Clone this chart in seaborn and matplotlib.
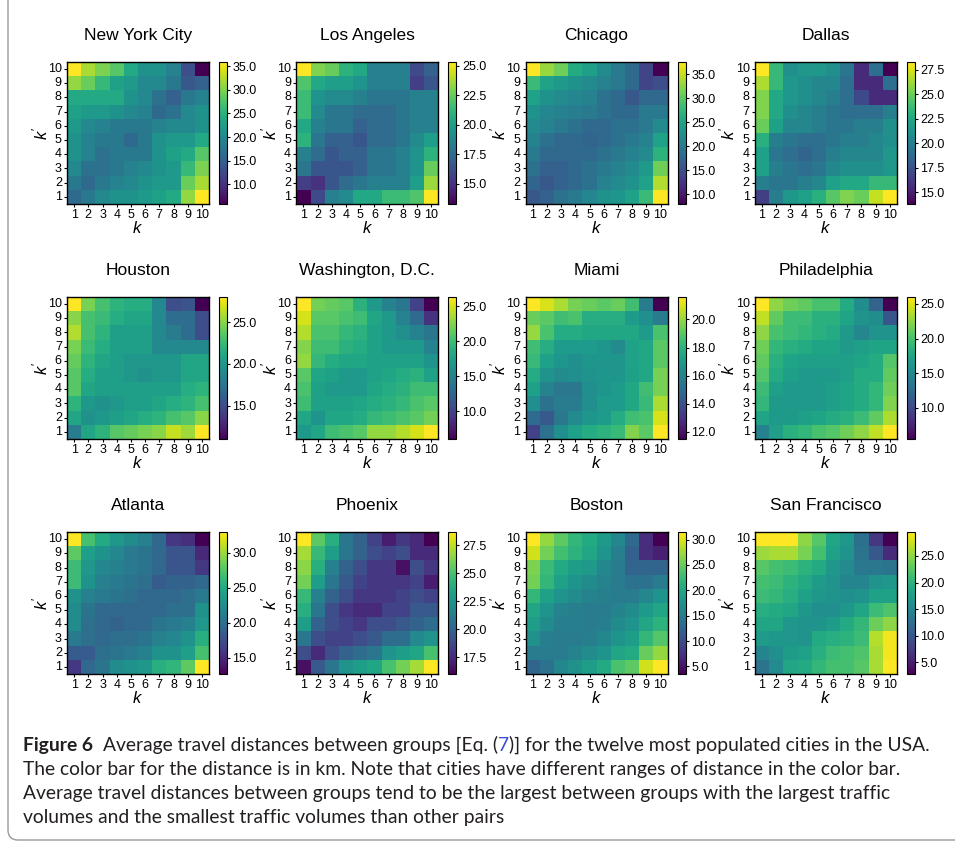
import numpy as np
import pandas as pd
import matplotlib
matplotlib.use("Agg")
import matplotlib.pyplot as plt
import seaborn as sns
from matplotlib.patches import FancyBboxPatch

sns.set_theme(style="white")
plt.rcParams['font.family'] = ['Liberation Sans', 'DejaVu Sans']
plt.rcParams['mathtext.fontset'] = 'custom'
plt.rcParams['mathtext.it'] = 'Liberation Sans:italic'
plt.rcParams['mathtext.rm'] = 'Liberation Sans'

# ---------------- data (rows: k' = 10 at top down to k' = 1; columns: k = 1..10) ----------------
k_labels = [1, 2, 3, 4, 5, 6, 7, 8, 9, 10]
kprime_labels = [10, 9, 8, 7, 6, 5, 4, 3, 2, 1]

cities = ["New York City", "Los Angeles", "Chicago", "Dallas",
          "Houston", "Washington, D.C.", "Miami", "Philadelphia",
          "Atlanta", "Phoenix", "Boston", "San Francisco"]

new_york = [
    [35.9, 32, 30, 28, 24, 21, 21, 19, 13, 5.8],
    [31, 29, 26, 23, 22, 20, 20, 18, 14, 15],
    [24, 24, 24, 24, 21, 20, 17, 15, 18, 19],
    [23, 22, 22, 21, 20, 19, 16, 17, 20, 21],
    [22, 20, 19, 18, 18, 18, 19, 20, 20, 21],
    [21, 19, 18, 18, 16, 18, 21, 22, 22, 24],
    [21, 19, 17, 18, 18, 18, 21, 23, 24, 28],
    [20, 17, 17, 18, 19, 20, 21, 22, 26, 30],
    [18, 16, 18, 19, 20, 21, 22, 22, 29, 32],
    [16, 18, 20, 21, 21, 22, 23, 24, 31, 35.9],
]
los_angeles = [
    [25.3, 23, 22.5, 21, 20.5, 18.5, 18.5, 18.5, 16, 17],
    [22, 20.5, 20, 20, 19.5, 18.5, 18.5, 18.5, 15.5, 16.5],
    [21.5, 19.5, 19, 19, 18.5, 18, 18, 18, 18.5, 18.5],
    [21.5, 19, 18, 18, 17.5, 17.5, 17.5, 18, 18.5, 18.5],
    [20.5, 18.5, 18, 18, 17, 17.5, 17.5, 18, 18.5, 18.5],
    [21, 18, 17, 17, 16.5, 17.5, 17.5, 18, 19, 20],
    [18.5, 17.5, 16.5, 17, 17, 18, 18, 18.5, 19.5, 21],
    [18, 16.5, 16.5, 16.5, 17, 18, 18, 18.5, 19.5, 22.5],
    [15.5, 15, 16.5, 17.5, 18, 18.5, 18.5, 18.5, 20, 23.5],
    [13.3, 16, 18.5, 19, 20.5, 20.5, 21.5, 21.5, 22, 25.3],
]
chicago = [
    [37.5, 33, 31, 26, 24.5, 22, 20, 18, 14, 8],
    [28, 25, 24, 23, 22, 21, 20, 18, 14, 15],
    [25, 23, 22, 21.5, 21, 19, 18, 16, 18, 18],
    [23, 21.5, 21, 20.5, 20, 19, 18, 18, 20, 20],
    [22, 21, 20, 19, 18, 18, 19, 19, 20, 22],
    [21, 19, 18, 18, 17.5, 18, 19, 20, 21, 25],
    [20, 18, 18, 18, 18, 19, 20, 21, 22, 27],
    [19, 17, 17, 18, 19, 20, 21, 22, 24, 31],
    [17.5, 16, 17, 18, 19, 21, 22, 23, 25, 34],
    [16, 17, 19, 20, 21.5, 23, 23.5, 25, 28, 37.5],
]
dallas = [
    [28.3, 23.5, 21, 21.5, 21.5, 21, 19.5, 15.5, 19, 13.8],
    [26.5, 23.5, 21.5, 21, 20.5, 20.5, 19, 15.5, 15.5, 19],
    [25.5, 22.5, 21.5, 21, 20.5, 20, 19, 17, 15.5, 15.5],
    [25.5, 22.5, 21, 20.5, 20, 19.5, 19, 19, 19, 20],
    [25, 22, 20.5, 20.5, 20, 19.5, 19.5, 20, 20, 21],
    [23, 20, 19.5, 19, 19, 19.5, 20, 20, 20.5, 21],
    [22, 19.5, 19, 18.5, 19, 20, 20.5, 20.5, 20.5, 21.5],
    [22, 20, 19.5, 19, 19.5, 20.5, 21, 21, 21, 21.5],
    [20, 19.5, 19.5, 20, 20.5, 22, 22.5, 22.5, 23.5, 23.5],
    [16.5, 20, 21.5, 22, 23, 24.5, 25.5, 25, 27, 28.3],
]
houston = [
    [28, 24.5, 23, 22, 21.5, 21.5, 19, 15, 15.5, 11],
    [25, 23, 22.5, 21.5, 21, 21, 19, 17, 17, 15],
    [26, 23, 22, 20.5, 20.5, 20.5, 19, 18, 17, 15],
    [24.5, 22.5, 21.5, 20.5, 20.5, 20.5, 19, 19, 19, 19],
    [24, 22, 21, 20.5, 20, 20, 20, 20, 21, 21],
    [23.5, 21.5, 20.5, 20.5, 20, 19.5, 20, 20, 21, 21],
    [23.5, 21, 20.5, 20.5, 20.5, 20.5, 20.5, 20.5, 21.5, 22],
    [22, 20, 19.5, 20, 20.5, 20.5, 21, 21.5, 22, 23],
    [21, 19.5, 20, 20.5, 21, 21.5, 22, 23, 23.5, 25],
    [18, 21, 22, 23.5, 24, 24.5, 25, 26.5, 25.5, 28],
]
washington = [
    [26.3, 22, 21.5, 21, 19, 17, 15, 14, 10, 6],
    [25, 21, 21, 20.5, 20, 18, 17, 15, 13, 9],
    [24, 20.5, 20.5, 19.5, 19, 17.5, 17, 16, 15, 14],
    [22.5, 20, 20, 19, 18.5, 17.5, 17, 17, 17, 15],
    [23, 19.5, 18.5, 18, 18, 17.5, 17.5, 17.5, 17.5, 16.5],
    [21, 18, 17.5, 17, 17, 17.5, 18, 18.5, 19, 17.5],
    [20.5, 17.5, 17, 17, 17, 18, 18.5, 19, 20, 20],
    [20, 17.5, 17.5, 17.5, 18, 18.5, 19, 19.5, 20.5, 21],
    [18, 16.5, 18, 18, 18.5, 19.5, 20, 20.5, 21, 22],
    [17, 18, 20, 20.5, 21, 23, 23, 24, 25, 26.3],
]
miami = [
    [21.6, 21, 20.3, 19.5, 19.3, 19, 19.3, 18.5, 15.7, 11.5],
    [19.3, 19, 18.5, 18.7, 17.8, 17.8, 17.8, 17, 16.5, 15.7],
    [20, 18.7, 17.7, 17.7, 17.5, 17.5, 17.5, 17.5, 17, 18.7],
    [18.5, 17.8, 17, 17, 17, 16.8, 16.3, 17.3, 17.5, 19],
    [18.3, 17.2, 16.8, 16.5, 16.8, 16.8, 16.8, 17.3, 17.5, 19],
    [17.7, 16.7, 16.3, 16.5, 16.7, 16.8, 16.8, 17.2, 17.5, 19.5],
    [17.2, 16, 15.5, 15.5, 16.5, 16.8, 17, 17.5, 18.5, 19.5],
    [16.5, 15.3, 15.7, 15.7, 16.5, 17, 17, 17.5, 18.3, 20.3],
    [15, 14.3, 15.5, 16.3, 16.8, 17, 17.7, 18.5, 18.7, 21],
    [13.5, 15.3, 16.5, 17.2, 17.7, 18, 18.3, 19.7, 19, 21.6],
]
philadelphia = [
    [26, 22.5, 21.5, 21, 20, 20, 18, 15.5, 12, 5.5],
    [24, 21, 19.5, 19.5, 18.5, 18.5, 17.5, 16, 15.5, 11],
    [22.5, 20, 19.5, 19, 18.5, 18, 16.5, 15, 16, 16],
    [21.5, 19, 18.5, 18, 17.5, 17.5, 16.5, 17, 17.5, 17.5],
    [21, 18.5, 17.5, 17, 17, 17, 17, 17.5, 18, 20.5],
    [20.5, 18, 17, 16.5, 16.5, 16.5, 17, 18, 18, 21],
    [19.5, 17, 16.5, 16.5, 16.5, 17, 17.5, 18, 19, 21.5],
    [19, 16.5, 16.5, 16.5, 16.5, 17, 17.5, 18, 19, 22],
    [17.5, 16.5, 16.5, 17, 17.5, 18, 18.5, 19.5, 21, 23.5],
    [14.5, 17, 18.5, 19, 20, 20.5, 21.5, 22.5, 24, 26],
]
atlanta = [
    [33, 27, 25, 23.5, 22.5, 21.5, 19.5, 16, 15.5, 12.7],
    [28, 24, 23, 22, 21, 20.5, 19.5, 18, 18, 15],
    [26.5, 23.5, 22, 21.5, 21, 20.5, 19.5, 18, 18, 16],
    [26.5, 23, 21.5, 21, 20.5, 20, 18.5, 19, 19, 19.5],
    [23, 21.5, 21, 20.5, 20, 19.5, 19.5, 19.5, 20, 21],
    [22.5, 20.5, 19.5, 19.5, 19.5, 19.5, 19.5, 20, 20, 23],
    [22.5, 20, 19.5, 19, 19.5, 19.5, 20.5, 21, 21.5, 23.5],
    [21, 20, 19.5, 20, 20, 20.5, 21.5, 22, 23, 25.5],
    [18.5, 18.5, 20, 20.5, 21, 21.5, 23, 23, 24, 27],
    [16, 19.5, 20.5, 22.5, 23, 23.5, 25.5, 26, 28, 33],
]
phoenix = [
    [28.7, 25.5, 24, 21, 20, 18.5, 17, 18, 17.5, 16],
    [27, 24.5, 23, 21, 20, 19, 18.5, 19, 17.5, 17.5],
    [26.5, 24, 21.5, 20, 19, 18, 18, 16.5, 19, 18],
    [26, 23, 21, 19.5, 18.5, 18, 18, 18, 18.5, 17],
    [24.5, 21.5, 20, 19, 18, 18, 18, 18.5, 19, 18.5],
    [24, 21, 19, 18, 17.5, 17.5, 18.5, 18.5, 19.5, 19.5],
    [23, 20, 19, 18.5, 18, 19, 19, 19.5, 20, 20.5],
    [21, 19, 18.5, 18.5, 19, 19.5, 20.5, 20.5, 22, 22.5],
    [19, 17.5, 19, 20, 20.5, 21, 22.5, 23, 23.5, 25],
    [16.5, 19.5, 21, 22.5, 23, 23.5, 25, 26, 27, 28.7],
]
boston = [
    [31.5, 27, 24.5, 22, 20.5, 18.5, 16.5, 13, 7, 3.5],
    [29.5, 25.5, 23, 21.5, 20, 18, 15.5, 12, 7, 6],
    [26, 22.5, 20.5, 19, 18.5, 16.5, 15, 12.5, 12.5, 12.5],
    [25.5, 22, 19.5, 18, 17, 16, 15, 14, 14, 15],
    [22, 19.5, 18, 17, 16, 15.5, 15, 15, 16.5, 18],
    [20, 18, 16, 15.5, 15, 15, 16, 17, 18.5, 20],
    [19, 17, 15.5, 15.5, 15, 15.5, 17, 18, 20, 21.5],
    [17.5, 15.5, 15, 15, 15.5, 16.5, 18, 19, 22, 24],
    [15, 15, 15, 16, 17, 18, 20, 20.5, 25, 27],
    [12.5, 14, 16.5, 17.5, 19, 20.5, 23.5, 24.5, 29.5, 31.5],
]
san_francisco = [
    [29.5, 29.5, 29.5, 25, 22.5, 18.5, 17, 12.5, 7, 2.8],
    [25.5, 26, 26, 24, 21.5, 18, 16.5, 13, 10, 6],
    [22.5, 21.5, 21, 20, 19, 17, 15.5, 13.5, 13.5, 13],
    [21.5, 21, 20, 19, 17.5, 16.5, 15, 15, 16.5, 17],
    [21, 20.5, 19.5, 18, 17, 16.5, 16, 16.5, 18, 18],
    [19.5, 19, 18.5, 17, 16, 16, 17, 18.5, 21, 22],
    [18.5, 18.5, 17, 16.5, 16.5, 17.5, 19, 20.5, 23.5, 25],
    [17.5, 17, 17, 16.5, 19, 19.5, 20, 21, 26.5, 29],
    [15, 16, 17.5, 18, 19.5, 21, 21.5, 22, 26, 29],
    [13, 15.5, 18.5, 19, 20.5, 21.5, 21.5, 22.5, 26, 29.5],
]

matrices = [new_york, los_angeles, chicago, dallas,
            houston, washington, miami, philadelphia,
            atlanta, phoenix, boston, san_francisco]

cbar_ticks = [
    [10, 15, 20, 25, 30, 35],
    [15, 17.5, 20, 22.5, 25],
    [10, 15, 20, 25, 30, 35],
    [15, 17.5, 20, 22.5, 25, 27.5],
    [15, 20, 25],
    [10, 15, 20, 25],
    [12, 14, 16, 18, 20],
    [10, 15, 20, 25],
    [15, 20, 25, 30],
    [17.5, 20, 22.5, 25, 27.5],
    [5, 10, 15, 20, 25, 30],
    [5, 10, 15, 20, 25],
]

caption_lines = [
    "The color bar for the distance is in km. Note that cities have different ranges of distance in the color bar.",
    "Average travel distances between groups tend to be the largest between groups with the largest traffic",
    "volumes and the smallest traffic volumes than other pairs",
]

# ---------------- figure ----------------
W, H = 955, 846
fig = plt.figure(figsize=(W / 100, H / 100), dpi=100)
fig.patch.set_facecolor("white")


def px_axes(x, y, w, h):
    return fig.add_axes([x / W, 1 - (y + h) / H, w / W, h / H])


for i, (name, mat, ticks) in enumerate(zip(cities, matrices, cbar_ticks)):
    r, c = divmod(i, 4)
    x0 = 67 + c * 229.3
    y0 = 62 + r * 235
    ax = px_axes(x0, y0, 142, 142)
    cax = px_axes(x0 + 152, y0, 8, 142)
    df = pd.DataFrame(mat, index=kprime_labels, columns=k_labels)
    sns.heatmap(df, ax=ax, cbar_ax=cax, cmap="viridis",
                xticklabels=True, yticklabels=True,
                cbar_kws={"ticks": ticks, "format": "%.1f"})
    for s in ax.spines.values():
        s.set_visible(True)
        s.set_color("black")
        s.set_linewidth(1.0)
    ax.tick_params(axis="both", length=2.5, width=0.8, color="black",
                   labelsize=9, pad=1.2, bottom=True, left=True, labelcolor="black")
    ax.tick_params(axis="y", labelrotation=0)
    ax.tick_params(axis="x", labelrotation=0)
    ax.set_xlabel("$k$", fontsize=12, labelpad=-1, color="black")
    ax.set_ylabel("$k'$", fontsize=12, color="black")
    ax.yaxis.set_label_coords(-0.12, 0.5)
    ax.set_title(name, fontsize=12.5, pad=16, color="black")
    cb = ax.collections[0].colorbar
    cb.outline.set_linewidth(0.8)
    cb.outline.set_edgecolor("black")
    cb.outline.set_visible(True)
    cax.tick_params(length=2.5, width=0.8, color="black", right=True,
                    labelsize=9, pad=1.5, labelcolor="black")

# ---------------- caption ----------------
cap_font = ["Lato", "DejaVu Sans"]
cap_color = "#231f20"
link_color = "#3c4fd0"
renderer = fig.canvas.get_renderer()


def width_px(s, size, weight="normal"):
    t = fig.text(0, 0, s, fontsize=size, family=cap_font, fontweight=weight)
    w = t.get_window_extent(renderer).width
    t.remove()
    return w


part_a = "Average travel distances between groups [Eq. ("
part_b = "7"
part_c = ")] for the twelve most populated cities in the USA."
full_rest = part_a + part_b + part_c

x_start = 23
target = 935 - x_start
size = 12.0
for _ in range(3):
    tot = width_px("Figure 6", size, "bold") + 10 + width_px(full_rest, size)
    size *= target / tot

base_y = [751, 775, 799, 823]
bw = width_px("Figure 6", size, "bold")
fig.text(x_start / W, 1 - base_y[0] / H, "Figure 6", fontsize=size, family=cap_font,
         fontweight="bold", color=cap_color, va="baseline")
xa = x_start + bw + 10
fig.text(xa / W, 1 - base_y[0] / H, part_a, fontsize=size, family=cap_font,
         color=cap_color, va="baseline")
xb = xa + width_px(part_a, size)
fig.text(xb / W, 1 - base_y[0] / H, part_b, fontsize=size, family=cap_font,
         color=link_color, va="baseline")
xc = xa + width_px(part_a + part_b, size)
fig.text(xc / W, 1 - base_y[0] / H, part_c, fontsize=size, family=cap_font,
         color=cap_color, va="baseline")
for line, by in zip(caption_lines, base_y[1:]):
    fig.text(x_start / W, 1 - by / H, line, fontsize=size, family=cap_font,
             color=cap_color, va="baseline")

# ---------------- frame ----------------
box = FancyBboxPatch((8 / 100, (H - 840) / 100), 10.5, 9.0,
                     boxstyle="round,pad=0,rounding_size=0.1",
                     transform=fig.dpi_scale_trans, fill=False,
                     edgecolor="#9a9a9a", linewidth=1.0)
fig.add_artist(box)

fig.savefig("out.png", dpi=100, facecolor="white")
